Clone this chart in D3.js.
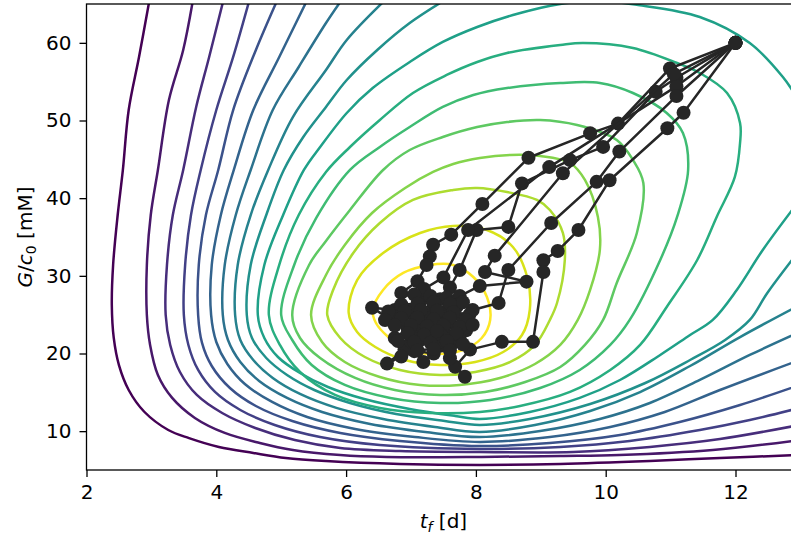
<!DOCTYPE html>
<html><head><meta charset="utf-8">
<script src="https://cdn.jsdelivr.net/npm/d3@7"></script>
<style>
body{margin:0;background:#fff;overflow:hidden;}
svg{display:block;font-family:"DejaVu Sans",sans-serif;}
</style></head><body>
<svg id="chart" width="791" height="537"></svg>
<script>
// ---- data ----
const xTicks = [2,4,6,8,10,12];
const yTicks = [10,20,30,40,50,60];

// contour levels (outermost = level01 ... innermost = level17), points [t_f, G/c0]
const level01 = [[2.97,65.5],[2.81,58.2],[2.65,51.35],[2.56,43.6],[2.48,37.8],[2.41,31.4],[2.39,26.25],[2.42,22.0],[2.50,18.5],[2.65,15.3],[2.89,12.5],[3.26,10.15],[3.58,9.1],[4.04,7.96],[4.57,7.19],[5.07,6.55],[5.69,6.16],[6.83,5.78],[8.06,5.65],[9.30,5.78],[10.68,6.16],[11.76,6.55],[12.99,6.93]];
const level02 = [[3.64,65.5],[3.49,59.08],[3.27,52.64],[3.10,43.63],[2.99,37.83],[2.93,31.4],[2.93,24.96],[2.98,21.1],[3.10,17.23],[3.32,14.28],[3.67,11.7],[4.13,9.77],[4.67,8.48],[5.18,7.58],[5.91,6.93],[6.62,6.68],[8.06,6.68],[9.30,6.8],[10.21,6.93],[11.65,7.58],[12.99,8.86]];
const level03 = [[4.11,65.5],[3.89,58.18],[3.69,51.74],[3.49,43.63],[3.33,37.83],[3.24,31.4],[3.22,24.96],[3.29,21.1],[3.44,17.62],[3.70,14.66],[4.09,12.34],[4.60,10.41],[5.21,8.86],[5.91,7.84],[6.83,7.45],[8.06,7.32],[9.50,7.32],[10.68,7.97],[11.76,8.99],[12.99,10.8]];
const level04 = [[4.51,65.5],[4.26,58.18],[4.00,51.35],[3.76,43.63],[3.61,37.83],[3.52,31.4],[3.50,24.96],[3.57,21.1],[3.72,17.88],[3.98,15.05],[4.37,12.73],[4.90,10.8],[5.60,9.25],[6.52,8.22],[8.06,7.71],[9.30,7.97],[10.37,8.74],[11.45,10.15],[12.22,11.44],[12.99,12.99]];
const level05 = [[4.94,65.5],[4.61,59.08],[4.26,51.35],[4.03,43.63],[3.84,37.83],[3.73,31.4],[3.72,24.96],[3.78,21.36],[3.93,18.39],[4.21,15.56],[4.61,13.24],[5.17,11.31],[5.91,9.77],[6.83,8.74],[8.06,8.09],[9.14,8.48],[10.22,9.51],[11.14,11.18],[12.07,13.37],[12.99,15.95]];
const level06 = [[5.40,65.5],[4.97,58.18],[4.57,51.35],[4.27,43.63],[4.07,37.83],[3.93,31.4],[3.92,24.96],[4.00,21.48],[4.17,18.65],[4.44,16.07],[4.86,13.76],[5.40,11.82],[6.14,10.28],[7.06,9.25],[8.06,8.61],[9.14,9.25],[10.07,10.54],[10.91,12.47],[11.76,15.3],[12.99,19.16]];
const level07 = [[5.93,65.5],[5.69,62.55],[5.27,56.89],[4.87,51.35],[4.53,43.63],[4.30,37.83],[4.13,31.4],[4.10,24.96],[4.18,21.74],[4.37,18.91],[4.66,16.46],[5.09,14.28],[5.63,12.47],[6.37,10.93],[7.22,9.9],[8.06,9.25],[8.99,10.02],[9.91,11.57],[10.68,13.63],[11.45,16.59],[12.22,19.81],[12.99,22.77]];
const level08 = [[6.60,65.5],[6.01,60.37],[5.69,56.5],[5.18,50.45],[4.80,43.63],[4.53,37.83],[4.33,31.4],[4.29,24.96],[4.37,21.74],[4.57,19.16],[4.87,16.85],[5.29,14.79],[5.85,13.0],[6.57,11.57],[7.37,10.54],[8.06,9.9],[8.91,10.8],[9.76,12.6],[10.53,15.04],[11.30,18.39],[12.07,22.12],[12.99,26.25]];
const level09 = [[7.52,65.5],[6.98,62.55],[6.48,59.08],[6.01,55.21],[5.69,51.74],[5.34,47.88],[5.04,43.63],[4.77,37.83],[4.53,31.4],[4.47,24.96],[4.55,22.0],[4.77,19.42],[5.09,17.23],[5.51,15.3],[6.06,13.63],[6.77,12.21],[7.52,11.31],[8.06,10.8],[8.83,11.57],[9.76,13.5],[10.61,16.2],[11.30,19.16],[11.84,21.74],[12.22,24.32],[12.49,27.79],[12.99,33.33]];
const level10 = [[12.99,52.38],[12.73,55.6],[12.22,59.98],[11.45,63.33],[10.50,64.87],[9.91,65.39],[9.30,65.0],[8.57,63.58],[8.02,62.04],[7.49,60.11],[6.98,57.53],[6.41,54.18],[6.01,50.97],[5.60,46.59],[5.35,43.63],[5.03,37.83],[4.74,31.4],[4.64,24.96],[4.74,22.0],[4.95,19.55],[5.29,17.49],[5.72,15.69],[6.28,14.14],[6.98,12.86],[7.68,11.96],[8.06,11.57],[8.83,12.47],[9.60,14.28],[10.22,16.59],[10.84,19.81],[11.30,22.38],[11.65,24.32],[12.02,28.18],[12.42,33.33],[12.99,39.77]];
const level11 = [[4.81,24.96],[4.97,31.4],[5.27,37.83],[5.69,43.37],[6.06,46.59],[6.52,50.07],[7.03,53.54],[7.55,55.86],[8.02,57.53],[8.48,58.69],[9.30,59.72],[9.65,59.98],[10.42,59.34],[11.10,57.4],[11.45,56.12],[11.87,53.54],[12.07,49.68],[12.07,47.1],[11.99,42.73],[11.71,37.58],[11.41,32.04],[10.94,25.99],[10.53,21.1],[10.07,17.88],[9.45,15.05],[8.68,13.24],[8.06,12.47],[7.29,12.34],[6.52,12.99],[5.83,14.66],[5.29,17.62],[4.98,21.1]];
const level12 = [[5.00,24.96],[5.20,31.4],[5.54,37.45],[6.06,43.63],[6.52,46.59],[6.98,49.16],[7.49,51.74],[7.96,53.28],[8.48,54.18],[9.30,54.83],[9.91,54.83],[10.42,53.54],[10.94,50.97],[11.19,48.39],[11.27,43.63],[11.10,37.58],[10.84,32.04],[10.37,24.32],[10.07,21.1],[9.60,17.88],[8.99,15.56],[8.22,14.02],[7.45,13.63],[6.68,14.28],[5.98,15.95],[5.47,18.52],[5.17,21.74]];
const level13 = [[5.17,24.96],[5.43,31.4],[5.69,34.49],[6.06,38.48],[6.57,43.63],[6.98,46.2],[7.49,47.88],[8.02,49.16],[8.48,49.81],[8.99,50.07],[9.56,49.42],[10.17,47.49],[10.42,44.92],[10.58,41.95],[10.48,35.52],[10.17,29.08],[9.96,24.32],[9.68,21.1],[9.30,18.26],[8.76,16.33],[8.14,15.05],[7.45,14.66],[6.75,15.3],[6.14,16.85],[5.60,19.42],[5.29,22.0]];
const level14 = [[5.46,24.96],[5.69,30.11],[5.98,33.97],[6.40,38.09],[6.91,41.31],[7.34,43.37],[7.65,44.4],[8.06,45.17],[8.53,45.56],[8.99,45.43],[9.45,44.53],[9.68,42.34],[9.88,37.58],[9.91,33.33],[9.76,28.18],[9.57,24.32],[9.30,21.1],[8.91,18.65],[8.37,16.85],[7.75,15.95],[7.14,15.95],[6.52,16.98],[5.98,18.91],[5.63,21.48]];
const level15 = [[5.71,24.96],[5.80,28.18],[6.11,32.94],[6.52,36.8],[7.03,39.77],[7.65,41.05],[8.02,41.31],[8.48,40.79],[8.94,39.77],[9.14,38.48],[9.34,35.52],[9.37,32.04],[9.25,26.5],[9.14,24.32],[8.91,21.1],[8.53,18.91],[7.99,17.62],[7.45,17.23],[6.83,17.88],[6.29,19.55],[5.91,22.0]];
const level16 = [[6.04,25.22],[6.17,29.46],[6.57,32.94],[7.14,35.52],[7.65,36.42],[8.17,35.9],[8.57,33.71],[8.79,29.85],[8.83,25.6],[8.71,22.38],[8.42,20.19],[7.99,18.91],[7.45,18.52],[6.91,19.16],[6.45,20.84],[6.17,22.77]];
const level17 = [[6.41,25.6],[6.57,28.18],[6.88,30.37],[7.29,31.4],[7.65,31.4],[7.96,29.85],[8.17,27.28],[8.22,24.32],[8.09,22.0],[7.80,20.45],[7.37,19.94],[6.95,20.45],[6.65,22.13],[6.46,23.93]];

// optimisation runs, each starting at (12, 60)
const runA = [[12,60],[10.99,56.7],[10.19,49.6],[9.76,48.35],[8.81,45.2],[8.10,39.25],[7.62,35.3],[7.34,34.0],[7.29,32.5],[7.24,31.4],[7.10,29.3],[6.85,27.8],[7.15,26.8],[6.75,25.6],[6.40,25.9],[6.70,24.3],[6.95,23.2],[6.75,22.0],[6.90,20.5],[7.10,21.6],[7.20,23.0]];
const runB = [[12,60],[11.09,55.5],[10.77,53.7],[9.96,46.6],[9.45,44.9],[8.71,41.9],[8.50,36.3],[8.01,35.9],[7.75,30.75],[7.60,28.5],[7.45,27.0],[7.70,26.0],[7.40,25.2],[7.60,24.0],[7.85,23.0],[7.55,22.4],[7.35,23.4]];
const runC = [[12,60],[11.09,54.4],[9.13,44.0],[7.88,35.9],[7.50,29.8],[7.20,28.3],[7.35,26.3],[7.00,25.4],[7.25,24.0],[7.45,21.0],[7.19,18.9],[7.05,20.3],[7.25,22.2]];
const runD = [[12,60],[11.2,51.0],[10.95,49.0],[10.06,42.3],[9.58,35.9],[9.26,33.2],[9.04,32.0],[9.04,30.5],[8.88,21.5],[8.40,21.5],[7.91,20.5],[7.68,18.3],[7.83,17.0],[7.60,19.4],[7.75,21.8],[7.50,23.0],[7.30,23.6]];
const runE = [[12,60],[11.09,53.15],[10.21,46.0],[9.86,42.1],[9.16,36.8],[8.50,30.75],[8.35,26.5],[7.95,25.6],[7.80,24.4],[7.60,21.0],[7.35,20.0],[6.91,20.5],[6.63,18.7],[6.85,19.6],[7.00,21.5],[7.15,22.6]];
const runF = [[12,60],[11.05,56.0],[9.34,43.2],[8.29,32.6],[8.14,30.5],[8.78,29.25],[8.06,28.7],[7.75,27.4],[7.55,25.5],[7.20,25.2],[7.10,23.9],[7.30,22.6]];
// final iterations clustering near the optimum
const runG = [[7.05,27.6],[7.30,27.4],[7.55,27.2],[7.80,26.6],[7.60,26.4],[7.35,26.6],[7.10,26.4],[6.85,26.3],[6.65,25.4],[6.90,25.4],[7.15,25.6],[7.40,25.5],[7.65,25.3],[7.90,25.0],[7.85,24.3],[7.60,24.6],[7.35,24.4],[7.10,24.6],[6.85,24.5],[6.60,24.3],[6.75,23.6],[7.00,23.6],[7.25,23.5],[7.50,23.6],[7.75,23.4],[7.95,23.7],[7.70,22.6],[7.45,22.5],[7.20,22.4],[6.95,22.6],[6.80,21.6],[7.05,21.5],[7.30,21.4],[7.55,21.6],[7.80,21.2],[7.60,20.4],[7.35,20.6],[7.10,20.4],[7.40,22.9]];

// ---- drawing ----
// axes run from t_f = 2 to 13; the page is narrower than the full axes, so the right spine falls outside
const plot = {left: 86.5, right: 800.4, top: 4, bottom: 470};
const svg = d3.select("#chart");

const x = d3.scaleLinear().domain([2, 13]).range([plot.left, plot.right]);
const y = d3.scaleLinear().domain([5, 65]).range([plot.bottom, plot.top]);

svg.append("defs").append("clipPath").attr("id","clip")
  .append("rect").attr("x",plot.left).attr("y",plot.top)
  .attr("width",plot.right-plot.left).attr("height",plot.bottom-plot.top);

const openLevels = [level01,level02,level03,level04,level05,level06,level07,level08,level09,level10];
const closedLevels = [level11,level12,level13,level14,level15,level16,level17];
const nLevels = openLevels.length + closedLevels.length;

const gC = svg.append("g").attr("clip-path","url(#clip)");
const lineOpen = d3.line().x(d=>x(d[0])).y(d=>y(d[1])).curve(d3.curveCatmullRom.alpha(0.5));
const lineClosed = d3.line().x(d=>x(d[0])).y(d=>y(d[1])).curve(d3.curveCatmullRomClosed.alpha(0.5));

openLevels.forEach((lv,i)=>{
  gC.append("path").attr("d",lineOpen(lv)).attr("fill","none")
    .attr("stroke",d3.interpolateViridis(i/(nLevels-1))).attr("stroke-width",2.5);
});
closedLevels.forEach((lv,j)=>{
  const i = j + openLevels.length;
  gC.append("path").attr("d",lineClosed(lv)).attr("fill","none")
    .attr("stroke",d3.interpolateViridis(i/(nLevels-1))).attr("stroke-width",2.5);
});

const runs = [runA,runB,runC,runD,runE,runF,runG];
const lineRun = d3.line().x(d=>x(d[0])).y(d=>y(d[1]));
const gP = svg.append("g").attr("clip-path","url(#clip)");
runs.forEach(r=>{
  gP.append("path").attr("d",lineRun(r)).attr("fill","none")
    .attr("stroke","#262626").attr("stroke-width",2.5).attr("stroke-linejoin","round");
  gP.selectAll(null).data(r).enter().append("circle")
    .attr("cx",d=>x(d[0])).attr("cy",d=>y(d[1])).attr("r",7).attr("fill","#262626");
});

// axes
const xAxis = svg.append("g").attr("transform",`translate(0,${plot.bottom})`)
  .call(d3.axisBottom(x).tickValues(xTicks).tickSize(7).tickPadding(8).tickFormat(d3.format("d")));
const yAxis = svg.append("g").attr("transform",`translate(${plot.left},0)`)
  .call(d3.axisLeft(y).tickValues(yTicks).tickSize(7).tickPadding(8).tickFormat(d3.format("d")));
[xAxis,yAxis].forEach(a=>{
  a.select(".domain").remove();
  a.selectAll(".tick line").attr("stroke","#000").attr("stroke-width",1.3);
  a.selectAll(".tick text").attr("fill","#000").style("font-size","20px").style("font-family","DejaVu Sans");
});

svg.append("rect").attr("x",plot.left).attr("y",plot.top)
  .attr("width",plot.right-plot.left).attr("height",plot.bottom-plot.top)
  .attr("fill","none").attr("stroke","#000").attr("stroke-width",1.3);

// axis labels
const xl = svg.append("text").attr("x",(plot.left+plot.right)/2).attr("y",528)
  .attr("text-anchor","middle").style("font-size","20px");
xl.append("tspan").style("font-style","italic").text("t");
xl.append("tspan").style("font-style","italic").style("font-size","14px").attr("dy",4).text("f");
xl.append("tspan").attr("dy",-4).text(" [d]");

const yl = svg.append("text")
  .attr("transform",`translate(32,${(plot.top+plot.bottom)/2}) rotate(-90)`)
  .attr("text-anchor","middle").style("font-size","20px");
yl.append("tspan").style("font-style","italic").text("G");
yl.append("tspan").text("/");
yl.append("tspan").style("font-style","italic").text("c");
yl.append("tspan").style("font-size","14px").attr("dy",4).text("0");
yl.append("tspan").attr("dy",-4).text(" [mM]");
</script>
</body></html>
